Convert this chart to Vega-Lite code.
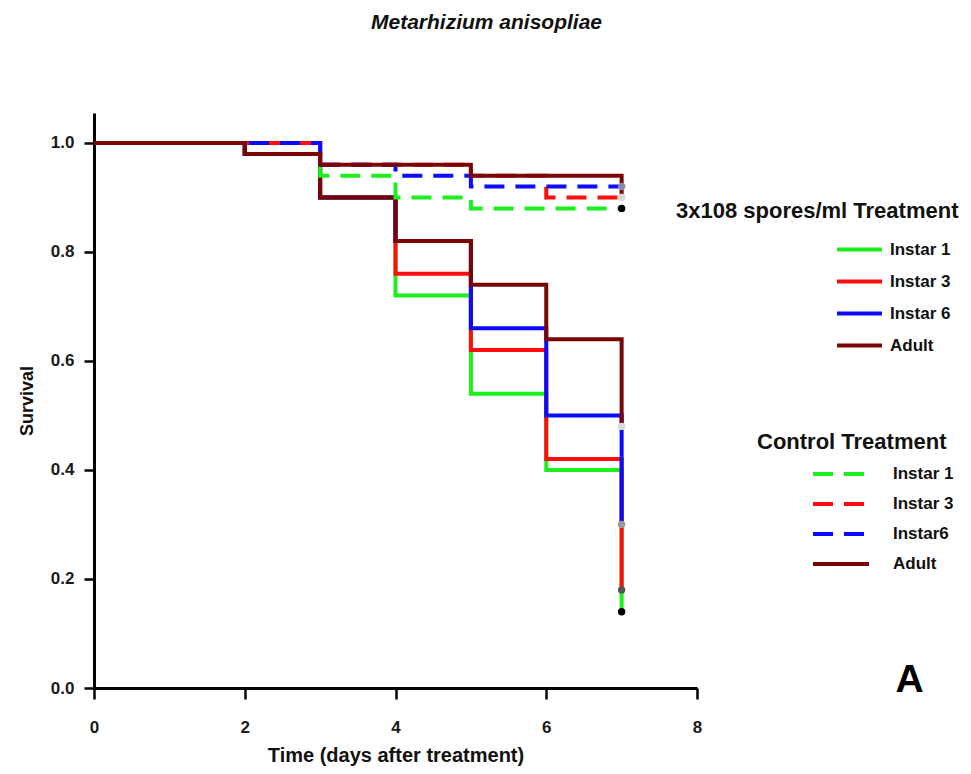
{
  "$schema": "https://vega.github.io/schema/vega-lite/v6.json",
  "width": 603,
  "height": 575,
  "autosize": {"type": "none"},
  "padding": {"left": 94, "top": 113, "right": 274, "bottom": 86},
  "background": "white",
  "config": {
    "font": "Liberation Sans",
    "view": {"stroke": null},
    "axis": {
      "grid": false,
      "domainColor": "#000",
      "domainWidth": 3,
      "tickColor": "#000",
      "tickWidth": 2.5,
      "labelFlush": false,
      "labelFont": "Liberation Sans",
      "labelFontWeight": "bold",
      "labelColor": "#1a1a1a",
      "titleFont": "Liberation Sans",
      "titleFontWeight": "bold",
      "titleColor": "#111"
    },
    "legend": {
      "titleFont": "Liberation Sans",
      "titleFontWeight": "bold",
      "titleFontSize": 22,
      "titleColor": "#111",
      "titleLimit": 400,
      "labelFont": "Liberation Sans",
      "labelFontWeight": "bold",
      "labelFontSize": 17,
      "labelColor": "#111",
      "symbolStrokeWidth": 4,
      "rowPadding": 0
    }
  },
  "title": {
    "text": "Metarhizium anisopliae",
    "font": "Liberation Sans",
    "fontSize": 21,
    "fontWeight": "bold",
    "fontStyle": "italic",
    "color": "#111",
    "anchor": "middle",
    "frame": "group",
    "dx": 91,
    "offset": 80
  },
  "datasets": {
    "treated": [
      {"stage": "Instar 1", "day": 0, "survival": 1.0},
      {"stage": "Instar 1", "day": 2, "survival": 0.98},
      {"stage": "Instar 1", "day": 3, "survival": 0.9},
      {"stage": "Instar 1", "day": 4, "survival": 0.72},
      {"stage": "Instar 1", "day": 5, "survival": 0.54},
      {"stage": "Instar 1", "day": 6, "survival": 0.4},
      {"stage": "Instar 1", "day": 7, "survival": 0.14},
      {"stage": "Instar 3", "day": 0, "survival": 1.0},
      {"stage": "Instar 3", "day": 3, "survival": 0.9},
      {"stage": "Instar 3", "day": 4, "survival": 0.76},
      {"stage": "Instar 3", "day": 5, "survival": 0.62},
      {"stage": "Instar 3", "day": 6, "survival": 0.42},
      {"stage": "Instar 3", "day": 7, "survival": 0.18},
      {"stage": "Instar 6", "day": 0, "survival": 1.0},
      {"stage": "Instar 6", "day": 2, "survival": 0.98},
      {"stage": "Instar 6", "day": 3, "survival": 0.9},
      {"stage": "Instar 6", "day": 4, "survival": 0.82},
      {"stage": "Instar 6", "day": 5, "survival": 0.66},
      {"stage": "Instar 6", "day": 6, "survival": 0.5},
      {"stage": "Instar 6", "day": 7, "survival": 0.3},
      {"stage": "Adult", "day": 0, "survival": 1.0},
      {"stage": "Adult", "day": 2, "survival": 0.98},
      {"stage": "Adult", "day": 3, "survival": 0.9},
      {"stage": "Adult", "day": 4, "survival": 0.82},
      {"stage": "Adult", "day": 5, "survival": 0.74},
      {"stage": "Adult", "day": 6, "survival": 0.64},
      {"stage": "Adult", "day": 7, "survival": 0.48}
    ],
    "control": [
      {"stage": "Instar 1", "day": 0, "survival": 1.0},
      {"stage": "Instar 1", "day": 3, "survival": 0.94},
      {"stage": "Instar 1", "day": 4, "survival": 0.9},
      {"stage": "Instar 1", "day": 5, "survival": 0.88},
      {"stage": "Instar 1", "day": 7, "survival": 0.88},
      {"stage": "Instar 3", "day": 0, "survival": 1.0},
      {"stage": "Instar 3", "day": 3, "survival": 0.96},
      {"stage": "Instar 3", "day": 5, "survival": 0.94},
      {"stage": "Instar 3", "day": 6, "survival": 0.9},
      {"stage": "Instar 3", "day": 7, "survival": 0.9},
      {"stage": "Instar6", "day": 0, "survival": 1.0},
      {"stage": "Instar6", "day": 3, "survival": 0.96},
      {"stage": "Instar6", "day": 4, "survival": 0.94},
      {"stage": "Instar6", "day": 5, "survival": 0.92},
      {"stage": "Instar6", "day": 7, "survival": 0.92},
      {"stage": "Adult", "day": 0, "survival": 1.0},
      {"stage": "Adult", "day": 2, "survival": 0.98},
      {"stage": "Adult", "day": 3, "survival": 0.96},
      {"stage": "Adult", "day": 5, "survival": 0.94},
      {"stage": "Adult", "day": 7, "survival": 0.9}
    ]
  },
  "layer": [
    {
      "data": {"name": "treated"},
      "mark": {"type": "line", "interpolate": "step-after", "strokeWidth": 4, "strokeCap": "butt", "strokeJoin": "miter"},
      "encoding": {
        "x": {
          "field": "day",
          "type": "quantitative",
          "scale": {"domain": [0, 8], "nice": false, "zero": false},
          "axis": {
            "title": "Time (days after treatment)",
            "values": [0, 2, 4, 6, 8],
            "format": "d",
            "tickSize": 11,
            "labelFontSize": 17,
            "labelPadding": 20,
            "titleFontSize": 20,
            "titlePadding": 10
          }
        },
        "y": {
          "field": "survival",
          "type": "quantitative",
          "scale": {"domain": [0, 1.055], "nice": false},
          "axis": {
            "title": "Survival",
            "values": [0, 0.2, 0.4, 0.6, 0.8, 1.0],
            "format": ".1f",
            "tickSize": 10,
            "labelFontSize": 17,
            "labelPadding": 10,
            "titleFontSize": 18,
            "titlePadding": 14
          }
        },
        "color": {
          "field": "stage",
          "type": "nominal",
          "sort": null,
          "scale": {"domain": ["Instar 1", "Instar 3", "Instar 6", "Adult"], "range": ["#1cf01c", "#ff0d0d", "#0a0aff", "#7a0505"]},
          "legend": {
            "title": "3x108 spores/ml Treatment",
            "orient": "none",
            "legendX": 582,
            "legendY": 88,
            "symbolType": "M-1.047,0H1.047",
            "symbolSize": 1849,
            "symbolOffset": 160,
            "labelOffset": 7,
            "titlePadding": 3,
            "rowPadding": 0
          }
        }
      }
    },
    {
      "data": {"name": "control"},
      "mark": {"type": "line", "interpolate": "step-after", "strokeWidth": 4, "strokeCap": "butt", "strokeJoin": "miter"},
      "encoding": {
        "x": {"field": "day", "type": "quantitative"},
        "y": {"field": "survival", "type": "quantitative"},
        "color": {
          "field": "stage",
          "type": "nominal",
          "sort": null,
          "scale": {"domain": ["Instar 1", "Instar 3", "Instar6", "Adult"], "range": ["#1cf01c", "#ff0d0d", "#0a0aff", "#7a0505"]},
          "legend": {
            "title": "Control Treatment",
            "orient": "none",
            "legendX": 663,
            "legendY": 319,
            "symbolType": "M-1.436,0H1.436",
            "symbolSize": 1521,
            "symbolOffset": 62.5,
            "labelOffset": 30.5,
            "titlePadding": -1.5,
            "rowPadding": 0
          }
        },
        "strokeDash": {
          "field": "stage",
          "type": "nominal",
          "sort": null,
          "scale": {"domain": ["Instar 1", "Instar 3", "Instar6", "Adult"], "range": [[20, 11], [20, 11], [20, 11], [1, 0]]},
          "legend": {
            "title": "Control Treatment",
            "orient": "none",
            "legendX": 663,
            "legendY": 319,
            "symbolType": "M-1.436,0H1.436",
            "symbolSize": 1521,
            "symbolOffset": 62.5,
            "labelOffset": 30.5,
            "titlePadding": -1.5,
            "rowPadding": 0
          }
        }
      }
    },
    {
      "data": {"name": "treated"},
      "transform": [{"filter": "datum.day == 7"}],
      "mark": {"type": "point", "filled": true, "size": 55, "opacity": 1},
      "encoding": {
        "x": {"field": "day", "type": "quantitative"},
        "y": {"field": "survival", "type": "quantitative"},
        "color": {
          "field": "stage",
          "type": "nominal",
          "scale": {"domain": ["Instar 1", "Instar 3", "Instar 6", "Adult"], "range": ["#000000", "#555555", "#9a9a9a", "#d9d9d9"]},
          "legend": null
        }
      }
    },
    {
      "data": {"name": "control"},
      "transform": [{"filter": "datum.day == 7"}],
      "mark": {"type": "point", "filled": true, "size": 55, "opacity": 1},
      "encoding": {
        "x": {"field": "day", "type": "quantitative"},
        "y": {"field": "survival", "type": "quantitative"},
        "color": {
          "field": "stage",
          "type": "nominal",
          "scale": {"domain": ["Adult", "Instar 3", "Instar6", "Instar 1"], "range": ["#d9d9d9", "#d9d9d9", "#8c8ca8", "#000000"]},
          "legend": null
        }
      }
    },
    {
      "data": {"values": [{"panel": "A"}]},
      "mark": {"type": "text", "font": "Liberation Sans", "fontSize": 39, "fontWeight": "bold", "color": "#000", "align": "center", "baseline": "alphabetic", "dy": 4, "clip": false},
      "encoding": {
        "x": {"datum": 10.82, "type": "quantitative"},
        "y": {"datum": 0, "type": "quantitative"},
        "text": {"field": "panel", "type": "nominal"}
      }
    }
  ],
  "resolve": {"scale": {"color": "independent", "strokeDash": "independent"}}
}
